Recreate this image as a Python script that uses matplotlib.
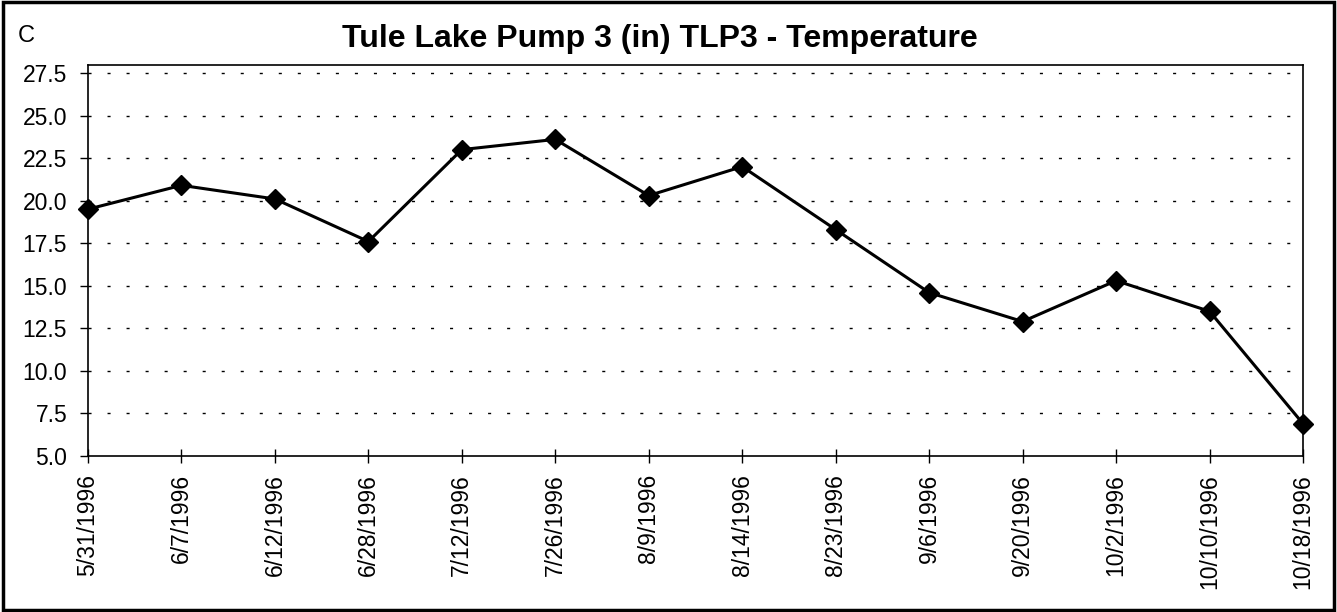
import matplotlib
matplotlib.use("Agg")
import matplotlib.pyplot as plt
from matplotlib.patches import Rectangle

dates = ["5/31/1996", "6/7/1996", "6/12/1996", "6/28/1996", "7/12/1996",
         "7/26/1996", "8/9/1996", "8/14/1996", "8/23/1996", "9/6/1996",
         "9/20/1996", "10/2/1996", "10/10/1996", "10/18/1996"]
temps = [19.5, 20.9, 20.1, 17.6, 23.0, 23.6, 20.3, 22.0, 18.3, 14.6,
         12.9, 15.3, 13.5, 6.9]
yticks = [5.0, 7.5, 10.0, 12.5, 15.0, 17.5, 20.0, 22.5, 25.0, 27.5]
title = "Tule Lake Pump 3 (in) TLP3 - Temperature"
unit = "C"

plt.rcParams['font.family'] = ['Liberation Sans', 'DejaVu Sans']

W, H = 1337, 612
fig = plt.figure(figsize=(W / 100, H / 100), dpi=100)
ax = fig.add_axes([88 / W, 1 - 456 / H, (1303 - 88) / W, (456 - 65) / H])

x = list(range(len(dates)))
ax.plot(x, temps, color="black", lw=2.2, marker="D", ms=10, mfc="black",
        mec="black", zorder=3, clip_on=False)

ax.set_xlim(0, len(dates) - 1)
ax.set_ylim(5.0, 27.97)
ax.set_yticks(yticks)
ax.set_yticklabels([f"{v:.1f}" for v in yticks], fontsize=16.5)
ax.set_xticks(x)
ax.set_xticklabels(dates, rotation=90, fontsize=16.5, va="top", ha="center")
ax.tick_params(axis="y", direction="out", length=6, width=1, pad=9)
ax.tick_params(axis="x", direction="inout", length=10, width=1, pad=8)

for v in yticks[1:]:
    ax.axhline(v, color="black", lw=1.0, linestyle=(0, (2.2, 11.5)), zorder=1)

for s in ax.spines.values():
    s.set_linewidth(1.2)
    s.set_color("black")

fig.text(660 / W, 1 - 39 / H, title, fontsize=23, fontweight="bold",
         ha="center", va="center")
fig.text(18 / W, 1 - 36 / H, unit, fontsize=17, ha="left", va="center")

fig.patches.append(Rectangle((0.002, 0.003), 0.996, 0.994, transform=fig.transFigure,
                             fill=False, edgecolor="black", lw=2.5))

fig.savefig("out.png", dpi=100)
